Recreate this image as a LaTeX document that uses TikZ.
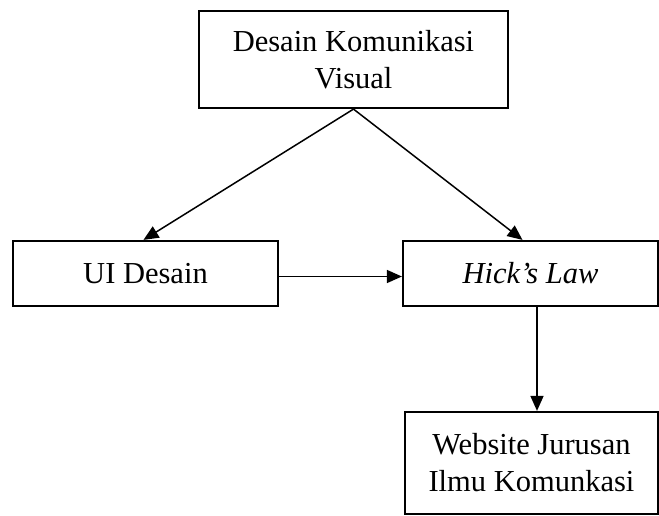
\documentclass[tikz,border=0pt]{standalone}
\usepackage{fontspec}
\setmainfont{Liberation Serif}
\usetikzlibrary{arrows.meta}

\tikzset{
	kotak/.style={draw=black, line width=2.2pt, align=center, inner sep=0pt,
		font=\fontsize{30.5}{37}\selectfont},
	panah/.style={line width=1.5pt, -{Triangle[length=15pt,width=13pt]}}
}

\begin{document}
\begin{tikzpicture}[x=1pt, y=-1pt]
	\useasboundingbox (0,0) rectangle (659,516);
	
	% Kotak
	\node[kotak, minimum width=309pt, minimum height=97pt] (dkv) at (353.5,59.5)
	{Desain Komunikasi\\Visual};
	\node[kotak, minimum width=265pt, minimum height=65pt] (ui) at (145.5,273.5)
	{UI Desain};
	\node[kotak, minimum width=255pt, minimum height=65pt] (hick) at (530.5,273.5)
	{\itshape Hick's Law};
	\node[kotak, minimum width=253pt, minimum height=102pt] (web) at (531.5,463)
	{Website Jurusan\\Ilmu Komunkasi};
	
	% Panah
	\draw[panah] (dkv.south) -- ([xshift=-2pt]ui.north);
	\draw[panah] (dkv.south) -- ([xshift=-8pt]hick.north);
	\draw[panah] ([yshift=-3pt]ui.east) -- ([yshift=-3pt]hick.west);
	\draw[panah] ([xshift=6.5pt]hick.south) -- ([xshift=5.5pt]web.north);
	
\end{tikzpicture}
\end{document}
